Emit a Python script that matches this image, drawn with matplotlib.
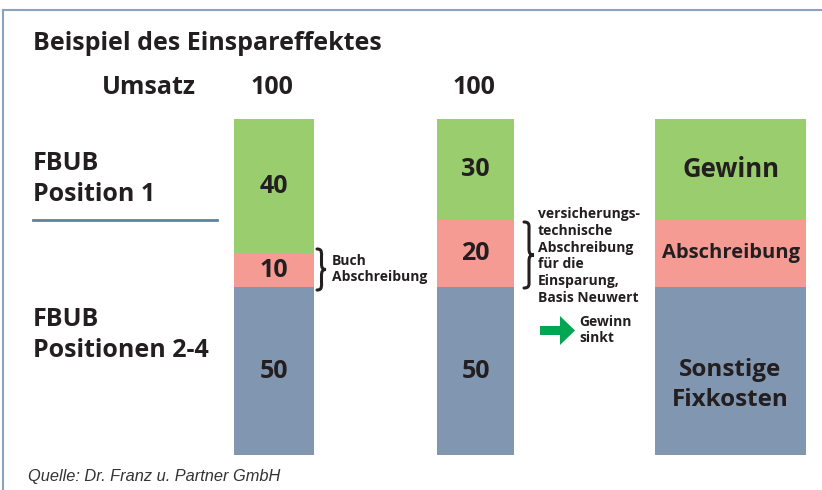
import matplotlib
matplotlib.use("Agg")
import matplotlib.pyplot as plt
from matplotlib.path import Path
from matplotlib.patches import PathPatch, Polygon
from matplotlib.lines import Line2D

# ---------------- data ----------------
bar_names = ["Ist", "Einsparung", "Struktur"]
umsatz = [100, 100, None]
gewinn = [40, 30, 30]
abschreibung = [10, 20, 20]
fixkosten = [50, 50, 50]
labels_bar3 = ["Gewinn", "Abschreibung", "Sonstige\nFixkosten"]

title = "Beispiel des Einspareffektes"
umsatz_label = "Umsatz"
group1_label = "FBUB\nPosition 1"
group2_label = "FBUB\nPositionen 2-4"
brace1_text = "Buch\nAbschreibung"
brace2_text = "versicherungs-\ntechnische\nAbschreibung\nfür die\nEinsparung,\nBasis Neuwert"
arrow_text = "Gewinn\nsinkt"
source = "Quelle: Dr. Franz u. Partner GmbH"

# ---------------- style ----------------
W, H = 822, 490
C_GREEN = "#9ACD6E"
C_PINK = "#F59B94"
C_BLUE = "#8197B1"
C_LINE = "#5E82A3"
C_BORDER = "#8AA3BC"
C_TEXT = "#231F20"
C_ARROW = "#00A651"
FONT = ["Open Sans", "DejaVu Sans"]

bar_x = [274, 475.5, 730.5]
bar_w = [80, 77, 151]
bar_top_px, bar_bot_px = 119, 455

fig = plt.figure(figsize=(W / 100, H / 100), dpi=100)
fig.patch.set_facecolor("white")

# bars axis
axb = fig.add_axes([0, (H - bar_bot_px) / H, 1, (bar_bot_px - bar_top_px) / H])
axb.set_xlim(0, W)
axb.set_ylim(0, 100)
axb.axis("off")

# overlay axis in pixel coords
ax = fig.add_axes([0, 0, 1, 1], zorder=3)
ax.set_xlim(0, W)
ax.set_ylim(H, 0)
ax.axis("off")
ax.patch.set_alpha(0)

bar3_sizes = [18.5, 14.5, 17.5]
bar3_offset_px = [0, 0, 14]
for i in range(3):
    b1 = fixkosten[i]
    b2 = fixkosten[i] + abschreibung[i]
    axb.bar(bar_x[i], fixkosten[i], width=bar_w[i], bottom=0, color=C_BLUE, linewidth=0)
    axb.bar(bar_x[i], abschreibung[i], width=bar_w[i], bottom=b1, color=C_PINK, linewidth=0)
    axb.bar(bar_x[i], gewinn[i], width=bar_w[i], bottom=b2, color=C_GREEN, linewidth=0)
    centers = [b2 + gewinn[i] / 2, b1 + abschreibung[i] / 2, fixkosten[i] / 2]
    vals = [gewinn[i], abschreibung[i], fixkosten[i]]
    for j, (yc, v) in enumerate(zip(centers, vals)):
        if i < 2:
            txt, fs, off = str(v), 18, 0
        else:
            txt, fs, off = labels_bar3[j], bar3_sizes[j], bar3_offset_px[j]
        axb.annotate(txt, (bar_x[i], yc), xytext=(0, -off * 0.72), textcoords="offset points",
                     ha="center", va="center", fontsize=fs,
                     fontweight="bold", color=C_TEXT, family=FONT, linespacing=1.35)
    if umsatz[i] is not None:
        ax.text(bar_x[i] - 2, 88, str(umsatz[i]), ha="center", va="center",
                fontsize=18, fontweight="bold", color=C_TEXT, family=FONT)

# border (top and left)
ax.add_line(Line2D([3, W], [10, 10], color=C_BORDER, lw=1.5))
ax.add_line(Line2D([3, 3], [10, H], color=C_BORDER, lw=1.5))

ax.text(33, 44, title, ha="left", va="center", fontsize=18, fontweight="bold",
        color=C_TEXT, family=FONT)
ax.text(196, 88, umsatz_label, ha="right", va="center", fontsize=18, fontweight="bold",
        color=C_TEXT, family=FONT)
ax.text(33, 179, group1_label, ha="left", va="center", fontsize=18, fontweight="bold",
        color=C_TEXT, family=FONT, linespacing=1.27)
ax.add_line(Line2D([33, 217], [220, 220], color=C_LINE, lw=2))
ax.text(33, 335, group2_label, ha="left", va="center", fontsize=18, fontweight="bold",
        color=C_TEXT, family=FONT, linespacing=1.27)


def brace(x, y0, y1, w):
    """right-facing curly brace in pixel coords"""
    ym = (y0 + y1) / 2
    verts = [(x, y0), (x + w * 0.6, y0), (x + w * 0.5, y0 + 4), (x + w * 0.5, y0 + 8),
             (x + w * 0.5, ym - 6),
             (x + w * 0.5, ym - 2), (x + w * 0.6, ym), (x + w, ym),
             (x + w * 0.6, ym), (x + w * 0.5, ym + 2), (x + w * 0.5, ym + 6),
             (x + w * 0.5, y1 - 8),
             (x + w * 0.5, y1 - 4), (x + w * 0.6, y1), (x, y1)]
    codes = [Path.MOVETO, Path.CURVE4, Path.CURVE4, Path.CURVE4,
             Path.LINETO,
             Path.CURVE4, Path.CURVE4, Path.CURVE4,
             Path.CURVE4, Path.CURVE4, Path.CURVE4,
             Path.LINETO,
             Path.CURVE4, Path.CURVE4, Path.CURVE4]
    ax.add_patch(PathPatch(Path(verts, codes), fill=False, lw=2.2, color=C_TEXT,
                           capstyle="round"))


brace(317, 249, 290, 9)
ax.text(332, 269, brace1_text, ha="left", va="center", fontsize=10, fontweight="bold",
        color=C_TEXT, family=FONT, linespacing=1.25)
brace(524, 222, 288, 10)
ax.text(538, 256, brace2_text, ha="left", va="center", fontsize=10, fontweight="bold",
        color=C_TEXT, family=FONT, linespacing=1.25)

# arrow
ax.add_patch(Polygon([(540, 326), (560, 326), (560, 316), (575, 330.5), (560, 345),
                      (560, 335), (540, 335)], closed=True, color=C_ARROW, lw=0))
ax.text(579, 330, arrow_text, ha="left", va="center", fontsize=10, fontweight="bold",
        color=C_TEXT, family=FONT, linespacing=1.25)

ax.text(28, 476, source, ha="left", va="center", fontsize=11.8, style="italic",
        color="#333333", family=["Liberation Sans", "DejaVu Sans"])

fig.savefig("out.png", dpi=100)
